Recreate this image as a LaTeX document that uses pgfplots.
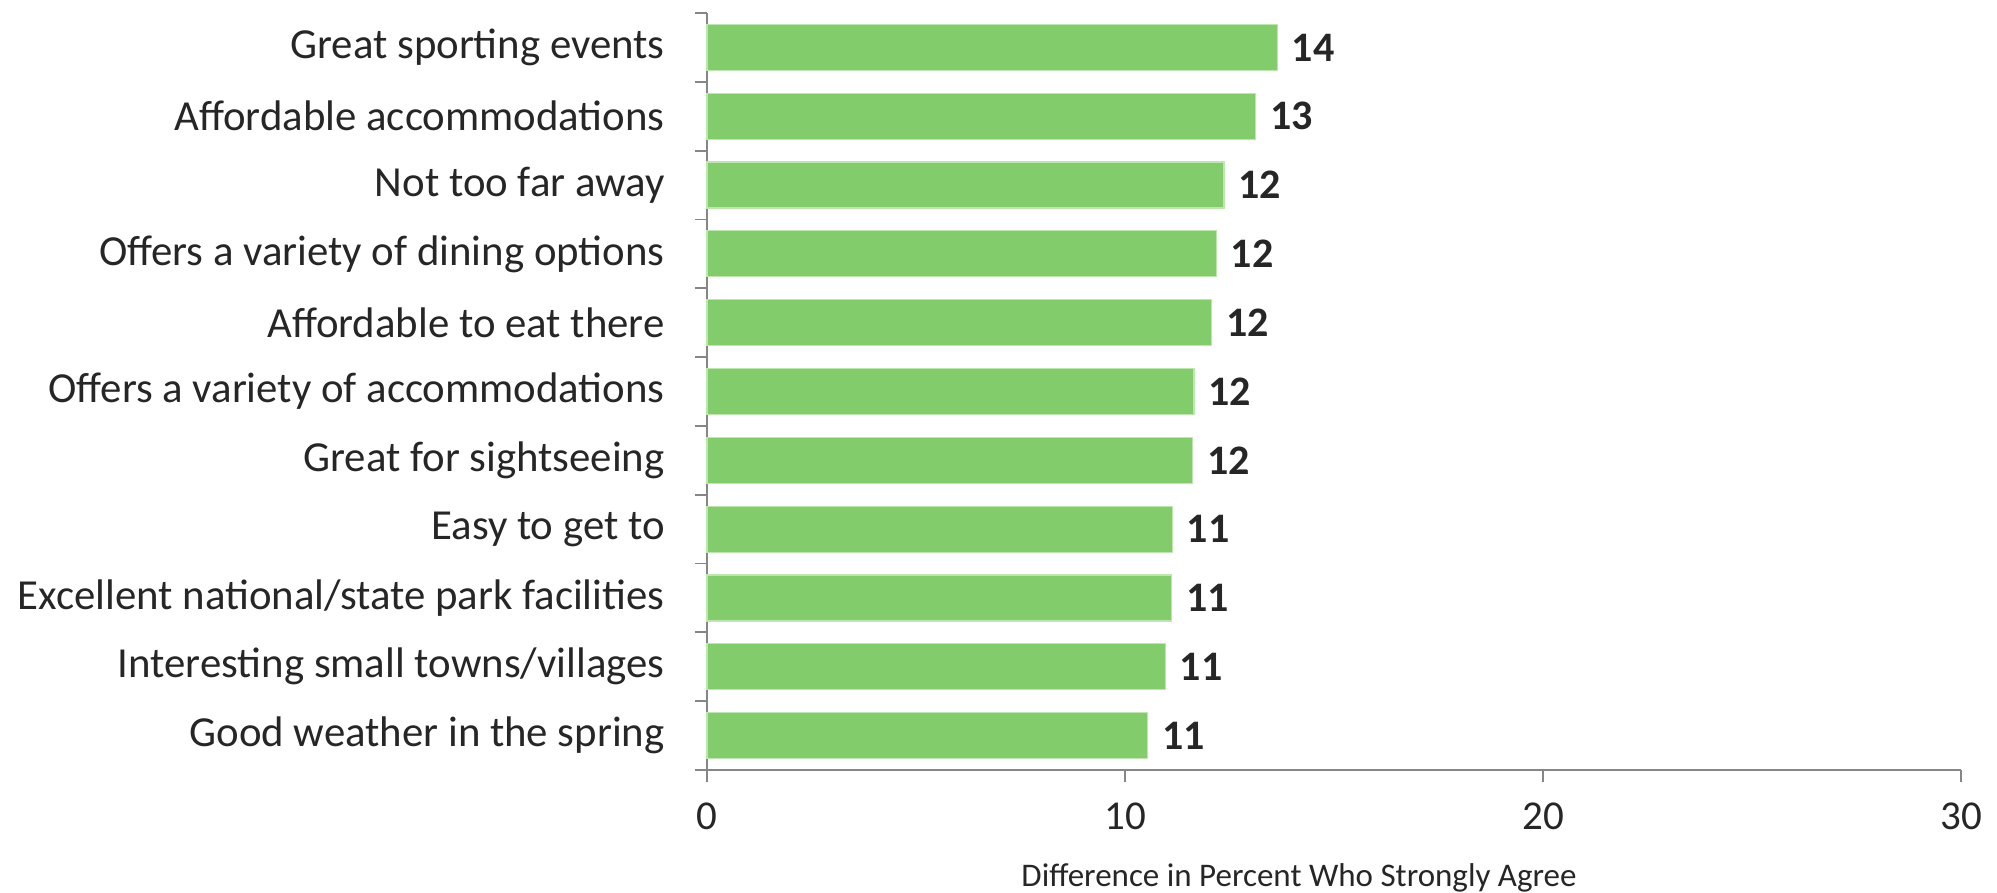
\documentclass[border=0pt]{standalone}
\usepackage{pgfplots}
\usepackage{pgfplotstable}
\pgfplotsset{compat=1.18}
\usepackage{fontspec}
\setmainfont{Carlito}
\definecolor{barfill}{RGB}{130,204,108}
\definecolor{barline}{RGB}{190,230,175}
\definecolor{axisgray}{RGB}{134,134,134}
\definecolor{txt}{RGB}{38,38,38}
\pgfplotstableread[col sep=comma]{
y,val,lab,name
1,10.54,11,Good weather in the spring
2,10.96,11,Interesting small towns/villages
3,11.12,11,Excellent national/state park facilities
4,11.13,11,Easy to get to
5,11.62,12,Great for sightseeing
6,11.65,12,Offers a variety of accommodations
7,12.07,12,Affordable to eat there
8,12.18,12,Offers a variety of dining options
9,12.37,12,Not too far away
10,13.13,13,Affordable accommodations
11,13.64,14,Great sporting events
}\datatable
\begin{document}
\begin{tikzpicture}
\begin{axis}[
  scale only axis,
  width=627pt, height=378.5pt,
  xmin=0, xmax=30, ymin=0.5, ymax=11.5,
  axis x line*=bottom, axis y line*=left,
  axis line style={axisgray, line width=0.9pt},
  xtick={0,10,20,30},
  ytick={1,...,11},
  yticklabels from table={\datatable}{name},
  minor ytick={0.5,1.5,...,11.5},
  major tick length=0pt,
  minor tick length=6pt,
  tick align=outside,
  every tick/.style={axisgray, line width=0.9pt},
  extra x ticks={0,10,20,30},
  extra x tick labels={},
  extra x tick style={major tick length=6pt},
  /pgf/number format/assume math mode=true,
  tick label style={font=\fontsize{21.4}{25}\selectfont, text=txt},
  xticklabel style={font=\fontsize{20.5}{24}\selectfont},
  yticklabel style={inner sep=0pt, anchor=east, xshift=-21pt},
  xticklabel style={inner sep=0pt, anchor=north, yshift=-16pt},
  xlabel={Difference in Percent Who Strongly Agree},
  xlabel style={font=\fontsize{16.5}{19}\selectfont, text=txt, at={(axis description cs:0.5,0)}, anchor=base, yshift=-58.5pt, xshift=-17.5pt},
  clip=false,
]
\addplot[xbar, bar width=23pt, fill=barfill, draw=barline, line width=0.6pt,
  point meta=explicit symbolic,
  nodes near coords,
  nodes near coords style={font=\fontsize{21}{25}\selectfont\bfseries, text=txt, anchor=west, inner sep=0pt, xshift=7pt}]
  table[x=val, y=y, meta=lab, col sep=comma] {\datatable};
\end{axis}
\pgfresetboundingbox
\path[use as bounding box] ([xshift=-353.5pt,yshift=-61.5pt]current axis.south west) rectangle ([xshift=18pt,yshift=6.5pt]current axis.north east);
\end{tikzpicture}
\end{document}
